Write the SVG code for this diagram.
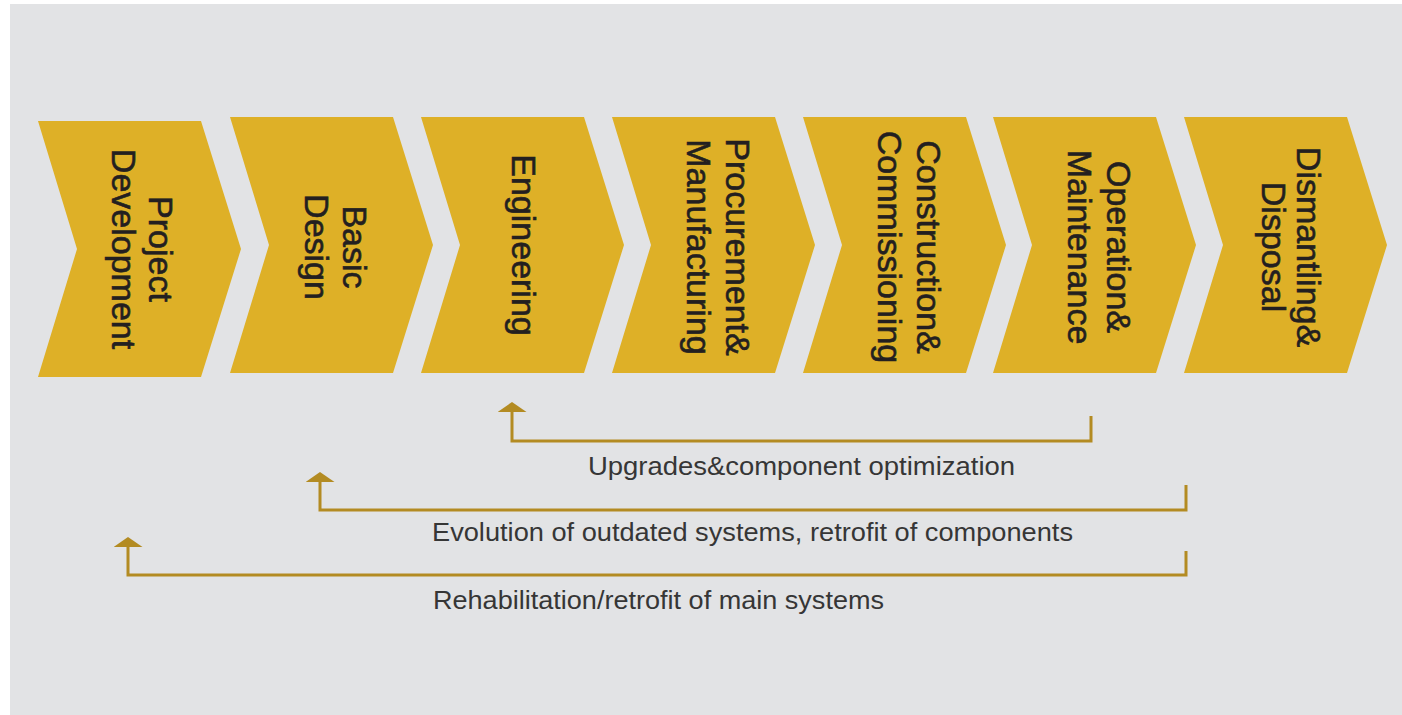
<svg xmlns="http://www.w3.org/2000/svg" width="1402" height="715" viewBox="0 0 1402 715">
  <style>
    .chev { fill: #DEB027; }
    .stage { font-family: "Liberation Sans", Arial, sans-serif; font-size: 34px; fill: #231F20; stroke: #231F20; stroke-width: 0.6; text-anchor: middle; }
    .link { fill: none; stroke: #B38B22; stroke-width: 3; }
    .note { font-family: "Liberation Sans", Arial, sans-serif; font-size: 25px; fill: #363636; }
  </style>
  <defs>
    <!-- chevron outline, origin at top-left corner -->
    <path id="chevron" d="M0,0 H163 L203,128 L163,256 H0 L39,128 Z"/>
    <marker id="tip" viewBox="0 0 10 29" refX="0" refY="14.5" markerWidth="10" markerHeight="29" markerUnits="userSpaceOnUse" orient="auto">
      <path d="M0,0 L10,14.5 L0,29 Z" fill="#B38B22"/>
    </marker>
  </defs>

  <!-- panel -->
  <rect x="10" y="4" width="1392" height="711" fill="#E2E3E5"/>

  <g id="project-development">
    <use href="#chevron" class="chev" x="38" y="121"/>
    <text class="stage" transform="translate(149,249) rotate(90)">Project</text>
    <text class="stage" transform="translate(112,249) rotate(90)">Development</text>
  </g>
  <g id="basic-design">
    <use href="#chevron" class="chev" x="230" y="117"/>
    <text class="stage" transform="translate(343,247) rotate(90)">Basic</text>
    <text class="stage" transform="translate(305,247) rotate(90)">Design</text>
  </g>
  <g id="engineering">
    <use href="#chevron" class="chev" x="421" y="117"/>
    <text class="stage" transform="translate(512,245) rotate(90)">Engineering</text>
  </g>
  <g id="procurement-manufacturing">
    <use href="#chevron" class="chev" x="612" y="117"/>
    <text class="stage" transform="translate(726,247) rotate(90)">Procurement&amp;</text>
    <text class="stage" transform="translate(687,247) rotate(90)">Manufacturing</text>
  </g>
  <g id="construction-commissioning">
    <use href="#chevron" class="chev" x="803" y="117"/>
    <text class="stage" transform="translate(917,247) rotate(90)">Construction&amp;</text>
    <text class="stage" transform="translate(878,247) rotate(90)">Commissioning</text>
  </g>
  <g id="operation-maintenance">
    <use href="#chevron" class="chev" x="993" y="117"/>
    <text class="stage" transform="translate(1107,247) rotate(90)">Operation&amp;</text>
    <text class="stage" transform="translate(1068,247) rotate(90)">Maintenance</text>
  </g>
  <g id="dismantling-disposal">
    <use href="#chevron" class="chev" x="1184" y="117"/>
    <text class="stage" transform="translate(1297,247) rotate(90)">Dismantling&amp;</text>
    <text class="stage" transform="translate(1262,247) rotate(90)">Disposal</text>
  </g>

  <g id="connectors">
    <path class="link" d="M1091,416 V441 H512 V412" marker-end="url(#tip)"/>
    <path class="link" d="M1186,485 V510 H320 V482" marker-end="url(#tip)"/>
    <path class="link" d="M1186,551 V575 H128 V547" marker-end="url(#tip)"/>
  </g>

  <g id="labels">
    <text class="note" x="588" y="475" textLength="427" lengthAdjust="spacingAndGlyphs">Upgrades&amp;component optimization</text>
    <text class="note" x="432" y="541" textLength="641" lengthAdjust="spacingAndGlyphs">Evolution of outdated systems, retrofit of components</text>
    <text class="note" x="433" y="609" textLength="451" lengthAdjust="spacingAndGlyphs">Rehabilitation/retrofit of main systems</text>
  </g>
</svg>
